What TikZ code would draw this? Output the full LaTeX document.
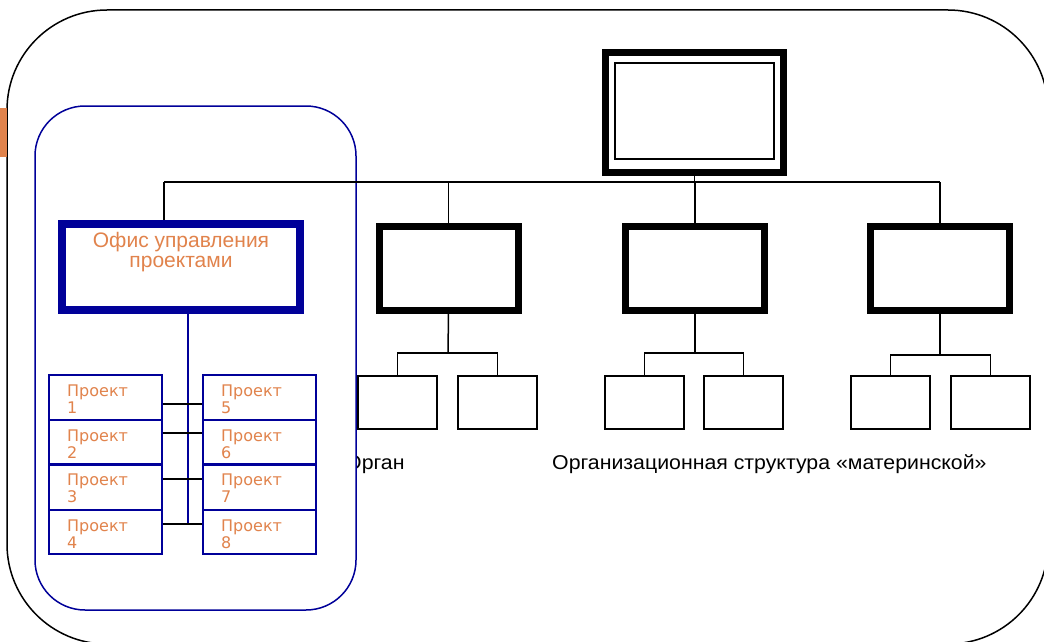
\documentclass[tikz,border=0pt]{standalone}
\usepackage{fontspec}
\setmainfont{Liberation Sans}
\newfontfamily\projfont{DejaVu Sans}
\definecolor{pblue}{RGB}{0,0,153}
\definecolor{porange}{RGB}{225,131,76}
\tikzset{
  unit box/.style={draw=black,line width=7pt,fill=white},
  leaf box/.style={draw=black,line width=1.5pt,fill=white},
  proj box/.style={draw=pblue,line width=1.5pt,fill=white},
  proj text/.style={text=porange,font=\projfont\fontsize{16}{17}\selectfont,align=left,anchor=north west,inner sep=0pt},
  conn/.style={draw=black,line width=1.5pt},
  caption/.style={anchor=base west,inner sep=0pt,font=\fontsize{20}{22}\selectfont},
}
\begin{document}
\begin{tikzpicture}[x=1pt,y=-1pt]
\useasboundingbox (0,0) rectangle (1044,642);
\clip (0,0) rectangle (1044,642);
\fill[white] (0,0) rectangle (1044,642);
% outer frame
\draw[line width=1.5pt,rounded corners=100pt] (7,10) rectangle (1048,644);
\fill[porange] (0,108) rectangle (7,157);
% captions
\node[caption] (cap1) at (345,469) {\scalebox{1.065}[1]{Орган}};
\node[caption] (cap2) at (552,469) {\scalebox{1.065}[1]{Организационная структура «материнской»}};
% blue panel
\draw[pblue,line width=1.5pt,fill=white,rounded corners=50pt] (35,106) rectangle (356,610);
% top box
\node[draw=black,line width=7pt,fill=white,minimum width=178pt,minimum height=120pt,inner sep=0pt] (top) at (694.5,112.5) {};
\node[draw=black,line width=2pt,minimum width=159pt,minimum height=96pt,inner sep=0pt] (topin) at (694.5,111) {};
% second level
\node[draw=pblue,line width=8pt,fill=white,minimum width=238pt,minimum height=86pt,inner sep=0pt] (pmo) at (181,267) {};
\node[text=porange,font=\fontsize{21}{20}\selectfont,align=center,anchor=north,inner sep=0pt] (pmot) at (181,232) {Офис управления\\проектами};
\node[unit box,minimum width=139pt,minimum height=84pt,inner sep=0pt] (u2) at (448.5,268) {};
\node[unit box,minimum width=139pt,minimum height=84pt,inner sep=0pt] (u3) at (695,268) {};
\node[unit box,minimum width=139pt,minimum height=84pt,inner sep=0pt] (u4) at (940,268) {};
% bus
\coordinate (busL) at (164,182);
\coordinate (busR) at (940,182);
\draw[conn] (top.south) -- (top.south |- busL);
\draw[conn] (busL) -- (busR);
\draw[conn] (busL) -- (busL |- pmo.north);
\draw[conn] (u2.north |- busL) -- (u2.north);
\draw[conn] (u3.north |- busL) -- (u3.north);
\draw[conn] (busR) -- (u4.north);
% leaves
\foreach \n/\x in {a/397.5,b/497.5,c/644.5,d/743.5,e/890.5,f/990.5}{
  \node[leaf box,minimum width=79pt,minimum height=53pt,inner sep=0pt] (l\n) at (\x,402.5) {};
}
\coordinate (b2) at (448,353);
\coordinate (b3) at (695,353);
\coordinate (b4) at (940,355);
\draw[conn] (u2.south) -- (b2);
\draw[conn] (u3.south) -- (b3);
\draw[conn] (u4.south) -- (b4);
\draw[conn] (la.north) -- (la.north |- b2) -- (lb.north |- b2) -- (lb.north);
\draw[conn] (lc.north) -- (lc.north |- b3) -- (ld.north |- b3) -- (ld.north);
\draw[conn] (le.north) -- (le.north |- b4) -- (lf.north |- b4) -- (lf.north);
% projects
\coordinate (pv) at (188,523);
\draw[pblue,line width=1.5pt] (pmo.south -| pv) -- (pv);
\foreach \i/\ya/\yb in {1/374/419,2/419/463,3/463/509,4/509/553}{
  \node[proj box,minimum width=113pt,minimum height=\yb pt-\ya pt,inner sep=0pt,anchor=north west] (p\i) at (48,\ya) {};
  \node[proj text] (pt\i) at (67,\ya+11) {Проект\\\i};
}
\foreach \i/\ya/\yb in {5/374/419,6/419/463,7/463/509,8/509/553}{
  \node[proj box,minimum width=113pt,minimum height=\yb pt-\ya pt,inner sep=0pt,anchor=north west] (p\i) at (202,\ya) {};
  \node[proj text] (pt\i) at (221,\ya+11) {Проект\\\i};
}
\draw[pblue,line width=3pt] (p2.south west) -- (p2.south east);
\draw[pblue,line width=3pt] (p6.south west) -- (p6.south east);
\draw[conn] (p1.east |- 0,404) -- (p5.west |- 0,404);
\draw[conn] (p2.east |- 0,433) -- (p6.west |- 0,433);
\draw[conn] (p3.east |- 0,479) -- (p7.west |- 0,479);
\draw[conn] (p4.east |- 0,524) -- (p8.west |- 0,524);
\end{tikzpicture}
\end{document}
